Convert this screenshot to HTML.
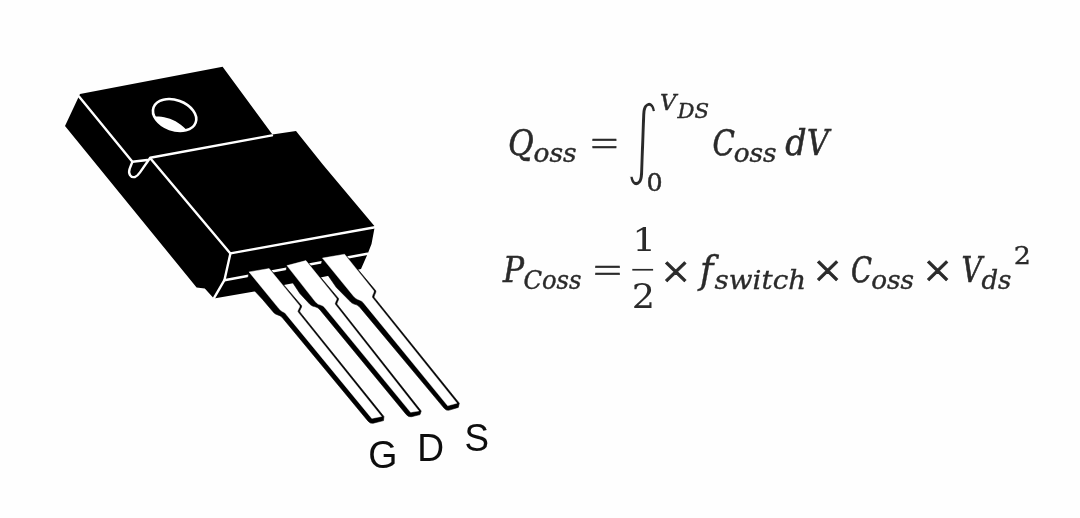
<!DOCTYPE html>
<html><head><meta charset="utf-8"><title>MOSFET Qoss</title>
<style>html,body{margin:0;padding:0;background:#fefefe;}svg{display:block}</style></head>
<body>
<svg width="1080" height="518" viewBox="0 0 1080 518">
<defs><filter id="soft" x="0" y="0" width="100%" height="100%" filterUnits="userSpaceOnUse"><feGaussianBlur stdDeviation="0.6"/></filter></defs>
<rect width="1080" height="518" fill="#fefefe"/>
<g filter="url(#soft)">
<polygon points="80.0,94.0 222.6,66.8 272.4,134.6 296.0,131.1 323.2,165.0 374.8,226.4 371.5,244.0 367.8,253.6 361.0,268.9 293.0,283.2 285.0,284.7 270.0,289.0 254.3,291.6 213.9,298.6 204.8,288.6 196.6,287.4 65.0,126.0" fill="#000"/>
<path d="M79,96.4 L132.4,161.8 L147.3,160" stroke="#fff" stroke-width="2.4" fill="none" stroke-linecap="round" stroke-linejoin="round"/>
<path d="M132.3,162 L129.7,168.6 C127.9,173.6 130.6,178 134.9,177 C137,176.4 138.6,174.4 140,172.4 L150.2,157.7 L272,135.4" stroke="#fff" stroke-width="2.4" fill="none" stroke-linecap="round" stroke-linejoin="round"/>
<path d="M150.5,158.5 L230.4,253.4 L375,227.2" stroke="#fff" stroke-width="2.4" fill="none" stroke-linecap="round" stroke-linejoin="round"/>
<path d="M230.4,253.4 L224.4,280.2 L214.1,297.9" stroke="#fff" stroke-width="2.4" fill="none" stroke-linecap="round" stroke-linejoin="round"/>
<path d="M224.4,280.2 L367.5,253.8" stroke="#fff" stroke-width="2.4" fill="none" stroke-linecap="round" stroke-linejoin="round"/>
<g transform="translate(174.6,115) rotate(20)"><ellipse rx="22.4" ry="14.9" fill="#000" stroke="#fff" stroke-width="2.6"/></g>
<clipPath id="hc"><ellipse transform="translate(174.6,115) rotate(20)" rx="22.4" ry="14.9"/></clipPath>
<path clip-path="url(#hc)" d="M150,116.6 L155.1,116.6 C161,116.3 171,118 178.2,123 C182,125.5 184,127 187,130.5 L187,140 L150,140 Z" fill="#fff"/>
<path d="M249.0,271.9 L269.7,268.5 L301.6,305.7 C302.4,306.7 299.0,310.9 299.8,311.9 L383.9,416.5 L383.5,420.6 L373.2,423.2 Q370.3,423.9 368.1,421.2 L282.8,318.2 C279.1,313.6 276.7,316.3 273.0,311.7 L262.4,299.2 L254.5,290.7 L248.0,278.0 Z" fill="#000" stroke="#000" stroke-width="0.6" stroke-linejoin="round"/><path d="M249.0,271.9 L269.1,268.5 L299.6,305.7 C300.4,306.7 297.0,310.9 297.8,311.9 L381.6,416.5 L371.8,418.4 L286.6,314.9 C283.4,311.0 282.1,312.5 278.9,308.6 Z" fill="#fff" stroke="#fff" stroke-width="0.4" stroke-linejoin="round"/>
<path d="M286.9,265.6 L306.5,260.6 L338.5,298.4 C339.3,299.3 336.2,303.3 337.0,304.2 L421.2,411.0 L420.0,414.6 L411.5,416.7 Q408.6,417.4 406.4,414.7 L320.3,310.2 C316.0,304.9 313.0,308.3 308.7,303.0 L299.9,293.5 L292.6,282.4 L286.0,272.0 Z" fill="#000" stroke="#000" stroke-width="0.6" stroke-linejoin="round"/><path d="M286.9,265.6 L305.9,260.6 L336.5,298.4 C337.3,299.3 334.2,303.3 335.0,304.2 L418.9,411.0 L410.6,412.3 L325.0,308.0 C321.4,303.6 319.0,306.2 315.4,301.8 Z" fill="#fff" stroke="#fff" stroke-width="0.4" stroke-linejoin="round"/>
<path d="M322.4,258.1 L345.2,254.2 L375.8,290.8 C376.7,291.9 373.3,296.3 374.2,297.4 L459.3,403.2 L458.3,407.4 L449.3,410.1 Q446.4,411.0 444.2,408.3 L360.4,307.9 C356.2,302.8 353.5,305.7 349.3,300.6 L336.4,287.5 L327.6,274.7 L321.5,264.0 Z" fill="#000" stroke="#000" stroke-width="0.6" stroke-linejoin="round"/><path d="M322.4,258.1 L344.6,254.2 L373.8,290.8 C374.7,291.9 371.3,296.3 372.2,297.4 L457.0,403.2 L447.7,405.8 L364.0,303.4 C359.9,298.4 357.5,301.0 353.4,296.0 Z" fill="#fff" stroke="#fff" stroke-width="0.4" stroke-linejoin="round"/>
<text transform="translate(508.06,155.00) scale(0.9702,1.0000)" font-family="DejaVu Serif Condensed, DejaVu Serif, Liberation Serif, serif" font-style="italic" font-size="36.0" textLength="26.56" lengthAdjust="spacingAndGlyphs" fill="#2a2a2a" stroke="#2a2a2a" stroke-width="0.5">Q</text>
<text transform="translate(533.57,161.70) scale(1.1310,1.0000)" font-family="DejaVu Serif Condensed, DejaVu Serif, Liberation Serif, serif" font-style="italic" font-size="26.0" textLength="38.08" lengthAdjust="spacingAndGlyphs" fill="#2a2a2a" stroke="#2a2a2a" stroke-width="0.35">oss</text>
<text transform="translate(590.14,155.80) scale(1.1387,0.8000)" font-family="Liberation Serif, DejaVu Serif, serif" font-size="44.0" textLength="24.83" lengthAdjust="spacingAndGlyphs" fill="#2a2a2a" stroke="#2a2a2a" stroke-width="0.5">=</text>
<text transform="translate(624.86,168.03) scale(0.7735,1.0055)" font-family="DejaVu Sans, Liberation Sans, sans-serif" font-size="88.0" textLength="45.86" lengthAdjust="spacingAndGlyphs" fill="#2a2a2a" stroke="#fefefe" stroke-width="3.3">∫</text>
<text transform="translate(660.07,110.40) scale(1.0968,1.0000)" font-family="DejaVu Serif Condensed, DejaVu Serif, Liberation Serif, serif" font-style="italic" font-size="22.8" textLength="14.83" lengthAdjust="spacingAndGlyphs" fill="#2a2a2a" stroke="#2a2a2a" stroke-width="0.4">V</text>
<text transform="translate(677.38,118.00) scale(1.1236,1.0000)" font-family="DejaVu Serif Condensed, DejaVu Serif, Liberation Serif, serif" font-style="italic" font-size="21.0" textLength="28.09" lengthAdjust="spacingAndGlyphs" fill="#2a2a2a" stroke="#2a2a2a" stroke-width="0.4">DS</text>
<text transform="translate(646.47,190.60) scale(1.1545,1.0000)" font-family="DejaVu Serif Condensed, DejaVu Serif, Liberation Serif, serif" font-size="24.4" textLength="13.97" lengthAdjust="spacingAndGlyphs" fill="#2a2a2a" stroke="#2a2a2a" stroke-width="0.4">0</text>
<text transform="translate(712.55,155.00) scale(0.9017,1.0000)" font-family="DejaVu Serif Condensed, DejaVu Serif, Liberation Serif, serif" font-style="italic" font-size="36.0" textLength="24.80" lengthAdjust="spacingAndGlyphs" fill="#2a2a2a" stroke="#2a2a2a" stroke-width="0.55">C</text>
<text transform="translate(733.77,161.70) scale(1.1255,1.0000)" font-family="DejaVu Serif Condensed, DejaVu Serif, Liberation Serif, serif" font-style="italic" font-size="26.0" textLength="38.08" lengthAdjust="spacingAndGlyphs" fill="#2a2a2a" stroke="#2a2a2a" stroke-width="0.35">oss</text>
<text transform="translate(785.16,155.00) scale(1.0293,1.0000)" font-family="DejaVu Serif Condensed, DejaVu Serif, Liberation Serif, serif" font-style="italic" font-size="36.0" textLength="20.73" lengthAdjust="spacingAndGlyphs" fill="#2a2a2a" stroke="#2a2a2a" stroke-width="0.5">d</text>
<text transform="translate(807.09,155.00) scale(0.9306,1.0000)" font-family="DejaVu Serif Condensed, DejaVu Serif, Liberation Serif, serif" font-style="italic" font-size="36.0" textLength="23.41" lengthAdjust="spacingAndGlyphs" fill="#2a2a2a" stroke="#2a2a2a" stroke-width="0.55">V</text>
<text transform="translate(502.88,281.50) scale(0.9698,1.0000)" font-family="DejaVu Serif Condensed, DejaVu Serif, Liberation Serif, serif" font-style="italic" font-size="36.0" textLength="21.80" lengthAdjust="spacingAndGlyphs" fill="#2a2a2a" stroke="#2a2a2a" stroke-width="0.5">P</text>
<text transform="translate(523.43,288.50) scale(1.0370,1.0000)" font-family="DejaVu Serif Condensed, DejaVu Serif, Liberation Serif, serif" font-style="italic" font-size="26.0" textLength="55.98" lengthAdjust="spacingAndGlyphs" fill="#2a2a2a" stroke="#2a2a2a" stroke-width="0.35">Coss</text>
<text transform="translate(593.07,281.95) scale(1.1681,0.7727)" font-family="Liberation Serif, DejaVu Serif, serif" font-size="44.0" textLength="24.83" lengthAdjust="spacingAndGlyphs" fill="#2a2a2a" stroke="#2a2a2a" stroke-width="0.5">=</text>
<text transform="translate(632.14,251.30) scale(1.3023,0.9684)" font-family="DejaVu Serif Condensed, DejaVu Serif, Liberation Serif, serif" font-size="32.0" textLength="18.31" lengthAdjust="spacingAndGlyphs" fill="#2a2a2a">1</text>
<text transform="translate(631.75,307.90) scale(1.2741,1.0358)" font-family="DejaVu Serif Condensed, DejaVu Serif, Liberation Serif, serif" font-size="32.0" textLength="18.31" lengthAdjust="spacingAndGlyphs" fill="#2a2a2a">2</text>
<rect x="632.3" y="268.9" width="20.8" height="1.7" fill="#2a2a2a"/>
<text transform="translate(661.49,288.11) scale(1.1469,1.1155)" font-family="Liberation Serif, DejaVu Serif, serif" font-size="44.0" textLength="24.83" lengthAdjust="spacingAndGlyphs" fill="#2a2a2a" stroke="#2a2a2a" stroke-width="0.7">×</text>
<text transform="translate(699.79,282.60) scale(1.1467,1.0667)" font-family="DejaVu Serif Condensed, DejaVu Serif, Liberation Serif, serif" font-style="italic" font-size="36.0" textLength="12.00" lengthAdjust="spacingAndGlyphs" fill="#2a2a2a" stroke="#2a2a2a" stroke-width="0.25">f</text>
<text transform="translate(714.60,288.50) scale(1.1873,1.0000)" font-family="DejaVu Serif Condensed, DejaVu Serif, Liberation Serif, serif" font-style="italic" font-size="26.0" textLength="77.06" lengthAdjust="spacingAndGlyphs" fill="#2a2a2a" stroke="#2a2a2a" stroke-width="0.3">switch</text>
<text transform="translate(813.53,287.28) scale(1.1357,1.1099)" font-family="Liberation Serif, DejaVu Serif, serif" font-size="44.0" textLength="24.83" lengthAdjust="spacingAndGlyphs" fill="#2a2a2a" stroke="#2a2a2a" stroke-width="0.7">×</text>
<text transform="translate(851.03,281.50) scale(0.8442,1.0000)" font-family="DejaVu Serif Condensed, DejaVu Serif, Liberation Serif, serif" font-style="italic" font-size="36.0" textLength="24.80" lengthAdjust="spacingAndGlyphs" fill="#2a2a2a" stroke="#2a2a2a" stroke-width="0.55">C</text>
<text transform="translate(871.28,288.50) scale(1.1228,1.0000)" font-family="DejaVu Serif Condensed, DejaVu Serif, Liberation Serif, serif" font-style="italic" font-size="26.0" textLength="38.08" lengthAdjust="spacingAndGlyphs" fill="#2a2a2a" stroke="#2a2a2a" stroke-width="0.35">oss</text>
<text transform="translate(923.53,287.48) scale(1.1357,1.1099)" font-family="Liberation Serif, DejaVu Serif, serif" font-size="44.0" textLength="24.83" lengthAdjust="spacingAndGlyphs" fill="#2a2a2a" stroke="#2a2a2a" stroke-width="0.7">×</text>
<text transform="translate(961.48,281.50) scale(0.8735,1.0000)" font-family="DejaVu Serif Condensed, DejaVu Serif, Liberation Serif, serif" font-style="italic" font-size="36.0" textLength="23.41" lengthAdjust="spacingAndGlyphs" fill="#2a2a2a" stroke="#2a2a2a" stroke-width="0.55">V</text>
<text transform="translate(981.45,288.50) scale(1.1083,1.0000)" font-family="DejaVu Serif Condensed, DejaVu Serif, Liberation Serif, serif" font-style="italic" font-size="26.0" textLength="26.97" lengthAdjust="spacingAndGlyphs" fill="#2a2a2a" stroke="#2a2a2a" stroke-width="0.35">ds</text>
<text transform="translate(1013.72,264.30) scale(1.2543,0.9803)" font-family="DejaVu Serif Condensed, DejaVu Serif, Liberation Serif, serif" font-size="23.9" textLength="13.67" lengthAdjust="spacingAndGlyphs" fill="#2a2a2a" stroke="#2a2a2a" stroke-width="0.3">2</text>
<g font-family="Liberation Sans, sans-serif" font-size="39.5" fill="#0a0a0a"><text transform="translate(368.3,468.3) scale(0.95,1)">G</text><text transform="translate(417.2,460.8) scale(0.94,1)">D</text><text transform="translate(464.5,450.8) scale(0.93,1)">S</text></g>
</g>
</svg>
</body></html>
